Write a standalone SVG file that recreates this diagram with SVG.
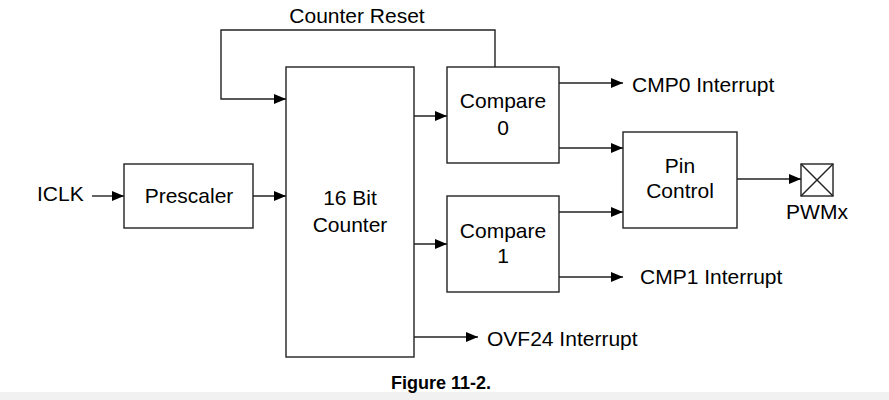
<svg xmlns="http://www.w3.org/2000/svg" width="889" height="400" viewBox="0 0 889 400">
<style>
.box{fill:#fff;stroke:#222;stroke-width:1.4}
.ln{fill:none;stroke:#222;stroke-width:1.4}
.t{font-family:"Liberation Sans",Arial,sans-serif;font-size:21px;fill:#000}
.m{text-anchor:middle}
.cap{font-family:"Liberation Sans",Arial,sans-serif;font-size:18px;font-weight:bold;fill:#000;text-anchor:middle}
</style>
<defs>
<marker id="arr" markerUnits="userSpaceOnUse" markerWidth="12" markerHeight="12" viewBox="0 0 12 12" refX="12" refY="6" orient="auto">
<path d="M0,1 L12,6 L0,11 Z" fill="#000"/>
</marker>
</defs>
<rect width="889" height="400" fill="#fff"/>
<rect x="0" y="392" width="889" height="8" fill="#f1f1f1"/>
<g id="connectors">
<polyline class="ln" points="495,67 495,30 221,30 221,99 286,99" marker-end="url(#arr)"/>
<line class="ln" x1="92" y1="196" x2="124" y2="196" marker-end="url(#arr)"/>
<line class="ln" x1="253" y1="196" x2="286" y2="196" marker-end="url(#arr)"/>
<line class="ln" x1="414" y1="116" x2="447" y2="116" marker-end="url(#arr)"/>
<line class="ln" x1="414" y1="244" x2="447" y2="244" marker-end="url(#arr)"/>
<line class="ln" x1="414" y1="337" x2="478" y2="337" marker-end="url(#arr)"/>
<line class="ln" x1="559" y1="83" x2="623" y2="83" marker-end="url(#arr)"/>
<line class="ln" x1="559" y1="148" x2="623" y2="148" marker-end="url(#arr)"/>
<line class="ln" x1="559" y1="212" x2="623" y2="212" marker-end="url(#arr)"/>
<line class="ln" x1="559" y1="277" x2="623" y2="277" marker-end="url(#arr)"/>
<line class="ln" x1="737" y1="179" x2="801" y2="179" marker-end="url(#arr)"/>
<text class="t m" x="357" y="23">Counter Reset</text>
<text class="t" x="37" y="201">ICLK</text>
<text class="t" x="632" y="92">CMP0 Interrupt</text>
<text class="t" x="640" y="284">CMP1 Interrupt</text>
<text class="t" x="487" y="346">OVF24 Interrupt</text>
</g>
<g id="prescaler">
<rect class="box" x="124" y="164" width="129" height="64"/>
<text class="t m" x="189" y="203">Prescaler</text>
</g>
<g id="counter">
<rect class="box" x="286" y="67" width="128" height="290"/>
<text class="t m" x="350" y="205">16 Bit</text>
<text class="t m" x="350" y="232">Counter</text>
</g>
<g id="compare0">
<rect class="box" x="447" y="67" width="112" height="96"/>
<text class="t m" x="503" y="108">Compare</text>
<text class="t m" x="503" y="135">0</text>
</g>
<g id="compare1">
<rect class="box" x="447" y="196" width="112" height="96"/>
<text class="t m" x="503" y="238">Compare</text>
<text class="t m" x="503" y="263">1</text>
</g>
<g id="pincontrol">
<rect class="box" x="623" y="132" width="114" height="96"/>
<text class="t m" x="680" y="173">Pin</text>
<text class="t m" x="680" y="198">Control</text>
</g>
<g id="pwmx">
<rect class="box" x="801" y="164" width="32" height="32"/>
<line class="ln" x1="801" y1="164" x2="833" y2="196" stroke-width="1"/>
<line class="ln" x1="833" y1="164" x2="801" y2="196" stroke-width="1"/>
<text class="t m" x="817" y="219">PWMx</text>
</g>
<text class="cap" x="441" y="389">Figure 11-2.</text>
</svg>
